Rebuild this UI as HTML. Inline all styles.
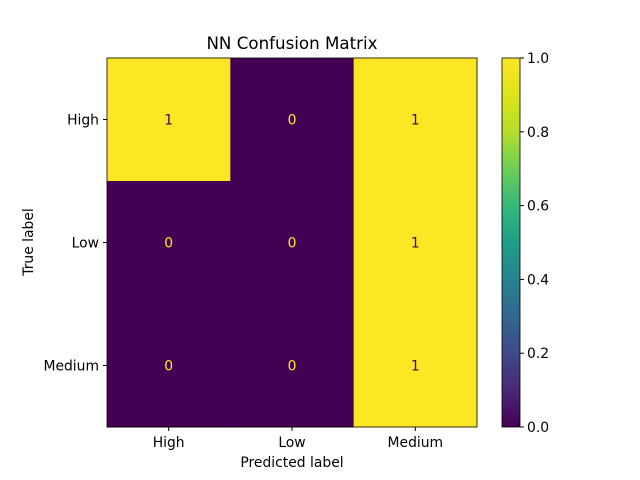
<!DOCTYPE html>
<html><head><meta charset="utf-8"><style>body{margin:0;background:#fff}svg{display:block;font-family:"DejaVu Sans","Liberation Sans",sans-serif}</style></head>
<body>
<svg id="chart" width="640" height="480">
<defs><linearGradient id="vir" x1="0" y1="1" x2="0" y2="0">
<stop offset="0" stop-color="#440154"/><stop offset="0.1" stop-color="#482878"/><stop offset="0.2" stop-color="#3e4989"/><stop offset="0.3" stop-color="#31688e"/><stop offset="0.4" stop-color="#26828e"/><stop offset="0.5" stop-color="#1f9e89"/><stop offset="0.6" stop-color="#35b779"/><stop offset="0.7" stop-color="#6ece58"/><stop offset="0.8" stop-color="#b5de2b"/><stop offset="0.9" stop-color="#dde318"/><stop offset="1" stop-color="#fde725"/></linearGradient></defs>
<text x="292" y="49" font-size="16.7" text-anchor="middle">NN Confusion Matrix</text>
<g id="cells"></g>
<rect x="502" y="58" width="18" height="369" fill="url(#vir)" stroke="#000" stroke-width="0.8"/>
<g id="cbticks"></g>
<text x="292" y="467" font-size="13.9" text-anchor="middle">Predicted label</text>
<text x="33" y="242" font-size="13.9" text-anchor="middle" transform="rotate(-90 33 242)">True label</text>
</svg>
<script>
const labels = ["High","Low","Medium"];
const matrix = [[1,0,1],[0,0,1],[0,0,1]];
const cbTicks = [0,0.2,0.4,0.6,0.8,1.0];
const NS="http://www.w3.org/2000/svg";
const x0=107,y0=58,W=370,H=369,n=labels.length,cw=W/n,ch=H/n;
const g=document.getElementById('cells');
function mk(t,a,p){const e=document.createElementNS(NS,t);for(const k in a)e.setAttribute(k,a[k]);p.appendChild(e);return e;}
matrix.forEach((row,i)=>row.forEach((v,j)=>{
 const r=mk('rect',{x:x0+j*cw,y:y0+i*ch,width:cw+0.5,height:ch+0.5,fill:v>=0.5?'#fde725':'#440154'},g);
 
 
 const t=mk('text',{x:x0+(j+0.5)*cw,y:y0+(i+0.5)*ch+5,'font-size':13.9,'text-anchor':'middle',fill:v>=0.5?'#440154':'#fde725'},g);
 t.textContent=v;
 
 
}));
mk('rect',{x:x0,y:y0,width:W,height:H,fill:'none',stroke:'#000','stroke-width':0.8},g);
labels.forEach((l,j)=>{
 const cx=x0+(j+0.5)*cw;
 mk('line',{x1:cx,x2:cx,y1:y0+H,y2:y0+H+4,stroke:'#000'},g);
 const t=mk('text',{x:cx,y:y0+H+20,'font-size':13.9,'text-anchor':'middle'},g);t.textContent=l;
 
 
 const cy=y0+(j+0.5)*ch;
 mk('line',{x1:x0-4,x2:x0,y1:cy,y2:cy,stroke:'#000'},g);
 const u=mk('text',{x:x0-8,y:cy+5,'font-size':13.9,'text-anchor':'end'},g);u.textContent=l;
 
 
});
const cb=document.getElementById('cbticks');
cbTicks.forEach(v=>{
 const y=427-v*369;
 mk('line',{x1:520,x2:524,y1:y,y2:y,stroke:'#000'},cb);
 const t=mk('text',{x:527,y:y+5,'font-size':13.9},cb);t.textContent=v.toFixed(1);
 
 
});
</script>
</body></html>
